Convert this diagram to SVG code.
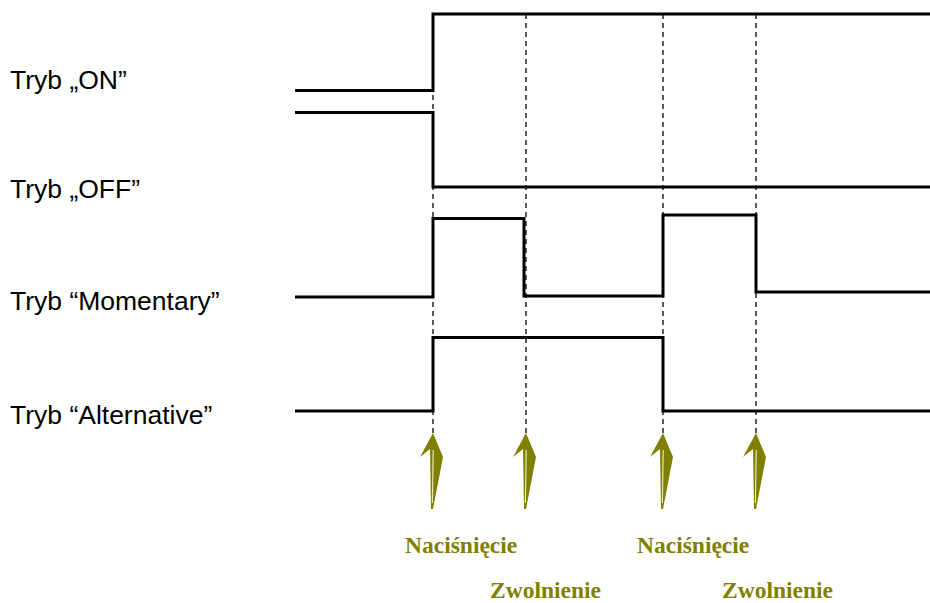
<svg xmlns="http://www.w3.org/2000/svg" width="930" height="603" viewBox="0 0 930 603">
<style>
.sig{fill:none;stroke:#000;stroke-width:3;stroke-linejoin:miter}
.dash{fill:none;stroke:#000;stroke-width:1.3;stroke-dasharray:5,4}
.lbl{font-family:"Liberation Sans",Arial,sans-serif;font-size:26.5px;fill:#000}
.ev{font-family:"Liberation Serif","Times New Roman",serif;font-size:23.5px;font-weight:bold;fill:#808000}
.arr{fill:#808000}
.hl{stroke:#e6e6b0;stroke-width:1.2}
</style>
<defs>
<g id="arrow">
<polygon class="arr" points="0,0 10,24 0,76 -2,76 -3,16 -13,24"/>
<line class="hl" x1="0.2" y1="17" x2="-0.6" y2="70"/>
</g>
</defs>
<rect width="930" height="603" fill="#fff"/>
<g id="connectors">
<line class="dash" x1="433" y1="14" x2="433" y2="433"/>
<line class="dash" x1="526" y1="14" x2="526" y2="433"/>
<line class="dash" x1="663" y1="14" x2="663" y2="433"/>
<line class="dash" x1="756" y1="14" x2="756" y2="433"/>
</g>
<g id="sig-on">
<text class="lbl" x="10" y="89">Tryb „ON”</text>
<polyline class="sig" points="295,90.5 433,90.5 433,14 930,14"/>
</g>
<g id="sig-off">
<text class="lbl" x="10" y="198">Tryb „OFF”</text>
<polyline class="sig" points="295,112.5 433,112.5 433,187 930,187"/>
</g>
<g id="sig-momentary">
<text class="lbl" x="10" y="310">Tryb “Momentary”</text>
<polyline class="sig" points="295,297 433,297 433,218.5 524,218.5 524,296 663,296 663,215 756,215 756,292 930,292"/>
</g>
<g id="sig-alternative">
<text class="lbl" x="10" y="424">Tryb “Alternative”</text>
<polyline class="sig" points="295,411 433,411 433,337.5 663,337.5 663,411 930,411"/>
</g>
<g id="arrows">
<use href="#arrow" x="433" y="433"/>
<use href="#arrow" x="526" y="433"/>
<use href="#arrow" x="663" y="433"/>
<use href="#arrow" x="756" y="433"/>
</g>
<g id="events">
<text class="ev" x="405" y="553">Naciśnięcie</text>
<text class="ev" x="490" y="598">Zwolnienie</text>
<text class="ev" x="637" y="553">Naciśnięcie</text>
<text class="ev" x="722" y="598">Zwolnienie</text>
</g>
</svg>
